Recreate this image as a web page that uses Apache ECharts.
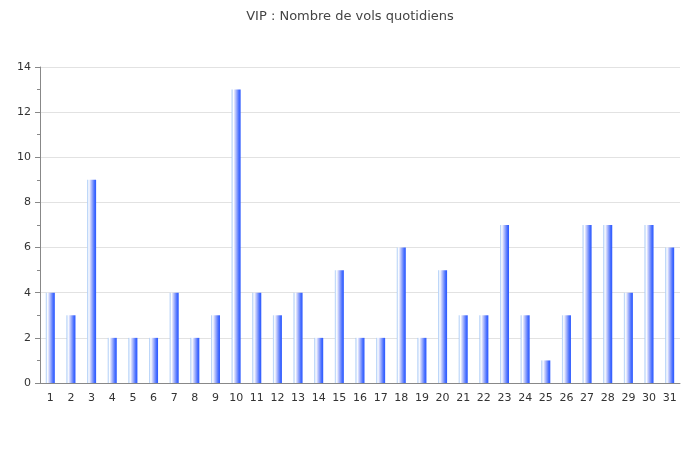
<!DOCTYPE html>
<html><head><meta charset="utf-8">
<script src="https://cdn.jsdelivr.net/npm/echarts@6/dist/echarts.min.js"></script>
<style>html,body{margin:0;padding:0;background:#fff}#c{width:700px;height:460px}</style>
</head><body><div id="c"></div>
<script>
const titleText = "VIP : Nombre de vols quotidiens";
const days = ["1","2","3","4","5","6","7","8","9","10","11","12","13","14","15","16","17","18","19","20","21","22","23","24","25","26","27","28","29","30","31"];
const flights = [4,3,9,2,2,2,4,2,3,13,4,3,4,2,5,2,2,6,2,5,3,3,7,3,1,3,7,7,4,7,6];
const yTicks = [0,2,4,6,8,10,12,14];

const chart = echarts.init(document.getElementById('c'), null, {renderer:'canvas'});
chart.setOption({
  animation:false,
  backgroundColor:'#ffffff',
  title:{text:titleText,left:'center',top:5,textStyle:{fontFamily:'DejaVu Sans',fontSize:13,fontWeight:'normal',color:'#444'}},
  grid:{left:40,right:20,top:67,bottom:77},
  xAxis:{type:'category',data:days,
    axisLine:{lineStyle:{color:'#888',width:1}},
    axisTick:{show:false},
    axisLabel:{fontFamily:'DejaVu Sans',fontSize:11,color:'#333',margin:10}},
  yAxis:{type:'value',min:yTicks[0],max:yTicks[yTicks.length-1],interval:2,
    axisLine:{show:true,lineStyle:{color:'#888'}},
    axisTick:{show:true,length:5,lineStyle:{color:'#888'}},
    minorTick:{show:true,splitNumber:2,length:3,lineStyle:{color:'#888'}},
    splitLine:{lineStyle:{color:'#e2e2e2'}},
    axisLabel:{fontFamily:'DejaVu Sans',fontSize:11,color:'#333',margin:9}},
  series:[{type:'bar',data:flights,barWidth:9,
    itemStyle:{color:new echarts.graphic.LinearGradient(0,0,1,0,[
      {offset:0,color:'#a2c6f6'},
      {offset:0.2,color:'#ffffff'},
      {offset:0.4,color:'#c4ccfc'},
      {offset:0.6,color:'#889efc'},
      {offset:0.8,color:'#4a70ff'},
      {offset:1,color:'#2a58ff'}])}}]
});
</script></body></html>
